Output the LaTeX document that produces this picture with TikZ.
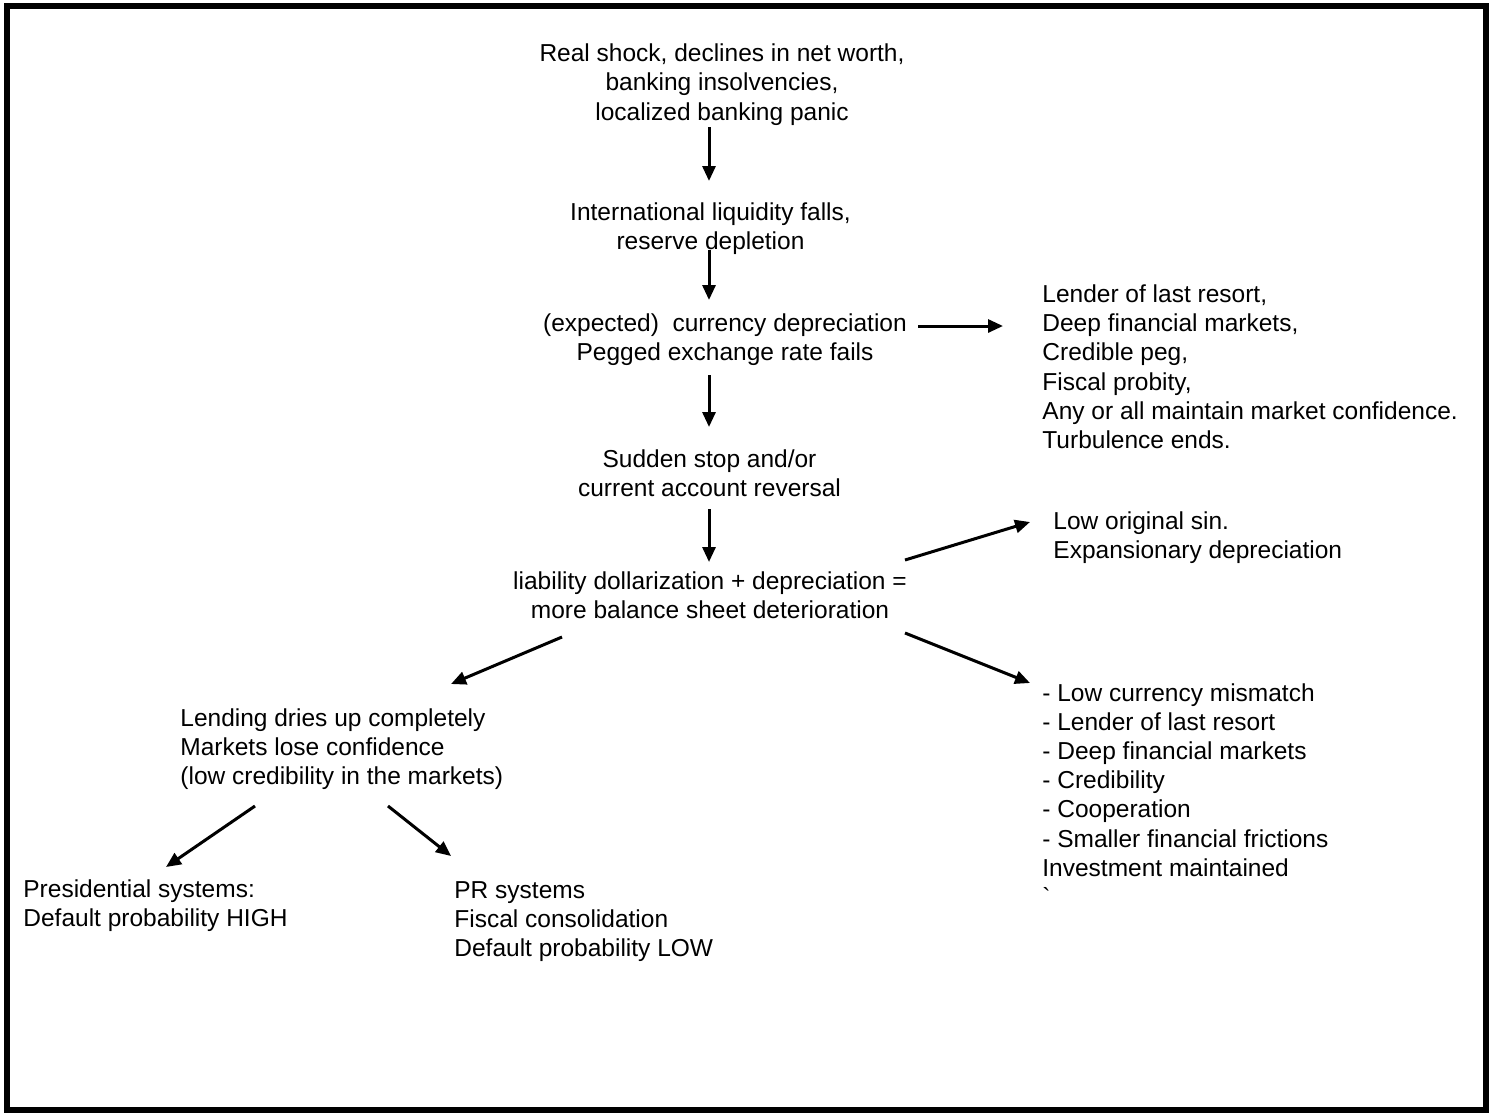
\documentclass[tikz,border=0pt]{standalone}
\usepackage{fontspec}
\setmainfont{Liberation Sans}
\usetikzlibrary{arrows.meta}
\begin{document}
\begin{tikzpicture}[x=0.5pt,y=-0.5pt,
  txt/.style={inner sep=0pt, font=\fontsize{12.25pt}{14.6pt}\selectfont},
  ctxt/.style={txt, align=center, anchor=base},
  ltxt/.style={txt, align=left, anchor=base west},
  arr/.style={line width=1.5pt, -{Triangle[length=7.5pt,width=6.5pt]}}]
\useasboundingbox (0,0) rectangle (1497,1114);
\draw[line width=3pt] (7,5.5) rectangle (1486,1110);

% anchor=base is the baseline of the last line
\node[ctxt] (top) at (722,120) {Real shock, declines in net worth,\\banking insolvencies,\\localized banking panic};
\node[ctxt] (intl) at (710.5,249.5) {International liquidity falls,\\reserve depletion};
\node[ctxt] (exp) at (725,360.5) {(expected)\ \ currency depreciation\\Pegged exchange rate fails};
\node[ctxt] (sud) at (709.5,496.5) {Sudden stop and/or\\current account reversal};
\node[ctxt] (liab) at (710,618.5) {liability dollarization + depreciation =\\more balance sheet deterioration};
\node[ltxt] (lolr) at (1042,448.5) {Lender of last resort,\\Deep financial markets,\\Credible peg,\\Fiscal probity,\\Any or all maintain market confidence.\\Turbulence ends.};
\node[ltxt] (los) at (1053,558.5) {Low original sin.\\Expansionary depreciation};
\node[ltxt] (lcm) at (1042,905.5) {- Low currency mismatch\\- Lender of last resort\\- Deep financial markets\\- Credibility\\- Cooperation\\- Smaller financial frictions\\Investment maintained\\\textasciigrave};
\node[ltxt] (lend) at (180,784.5) {Lending dries up completely\\Markets lose confidence\\(low credibility in the markets)};
\node[ltxt] (pres) at (23,926.5) {Presidential systems:\\Default probability HIGH};
\node[ltxt] (prs) at (454,956.5) {PR systems\\Fiscal consolidation\\Default probability LOW};

\coordinate (a1s) at (709,127);  \coordinate (a1e) at (709,181);
\coordinate (a2s) at (709,250);  \coordinate (a2e) at (709,300);
\coordinate (a3s) at (918,326);  \coordinate (a3e) at (1003,326);
\coordinate (a4s) at (709,375);  \coordinate (a4e) at (709,427);
\coordinate (a5s) at (709,509);  \coordinate (a5e) at (709,562);
\coordinate (a6s) at (905,560);  \coordinate (a6e) at (1030,522);
\coordinate (a7s) at (905,633);  \coordinate (a7e) at (1030,683);
\coordinate (a8s) at (562,637);  \coordinate (a8e) at (451,684);
\coordinate (a9s) at (255,806);  \coordinate (a9e) at (166,867);
\coordinate (a10s) at (388,806); \coordinate (a10e) at (451,856);

\draw[arr] (a1s) -- (a1e);
\draw[arr] (a2s) -- (a2e);
\draw[arr] (a3s) -- (a3e);
\draw[arr] (a4s) -- (a4e);
\draw[arr] (a5s) -- (a5e);
\draw[arr] (a6s) -- (a6e);
\draw[arr] (a7s) -- (a7e);
\draw[arr] (a8s) -- (a8e);
\draw[arr] (a9s) -- (a9e);
\draw[arr] (a10s) -- (a10e);
\end{tikzpicture}
\end{document}
